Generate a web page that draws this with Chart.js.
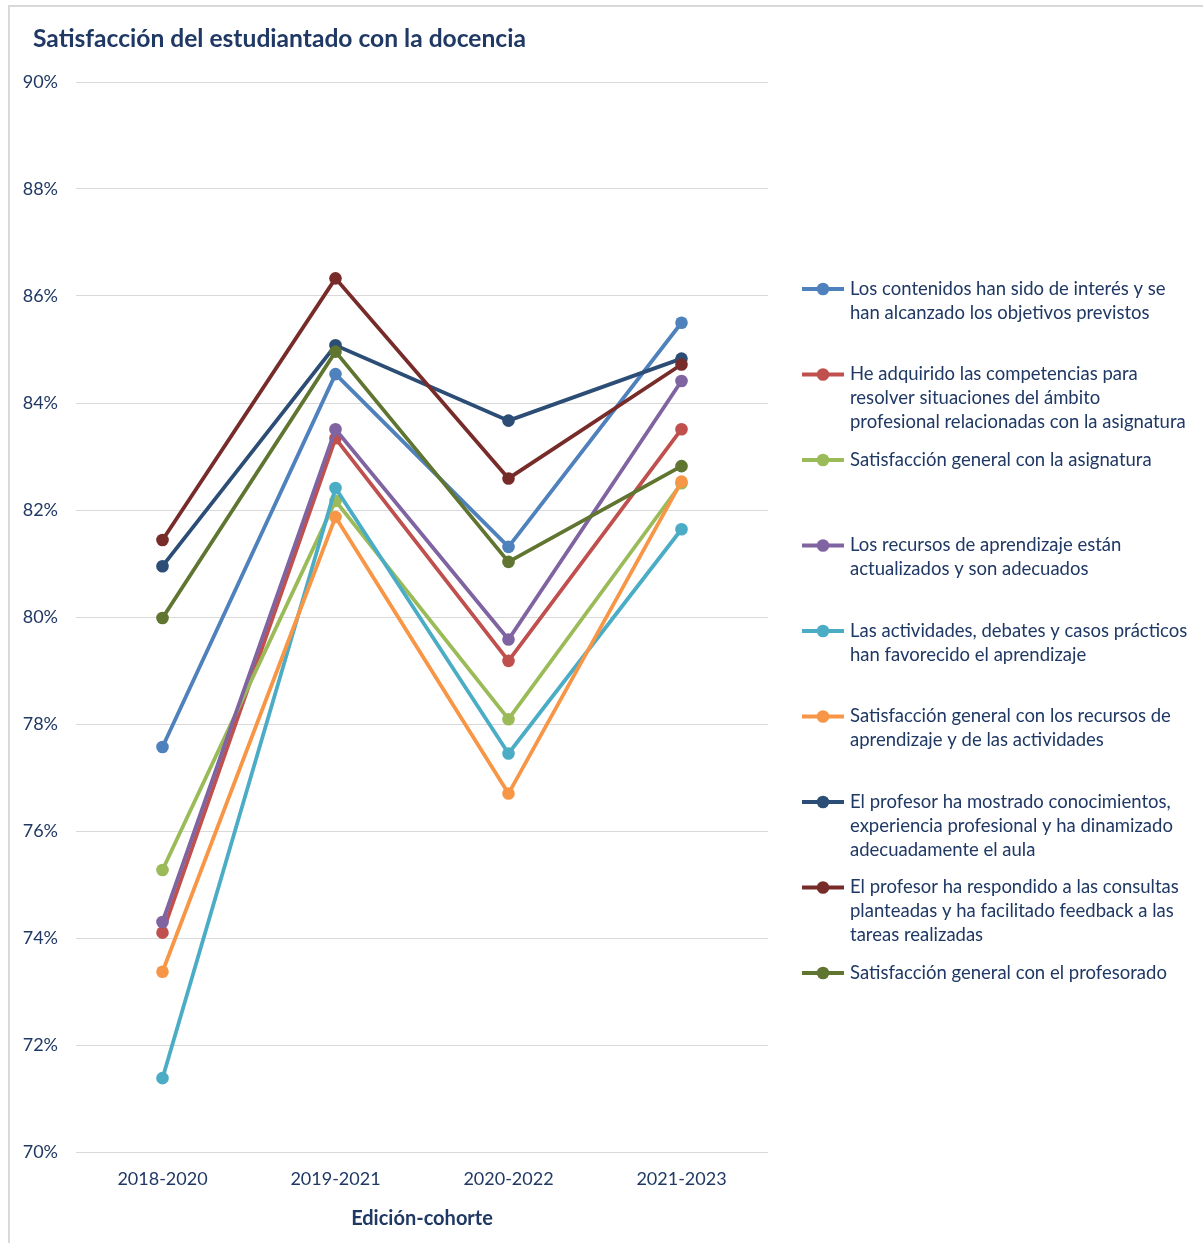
<!DOCTYPE html>
<html>
<head>
<meta charset="utf-8">
<script src="https://cdn.jsdelivr.net/npm/chart.js@4.4.0/dist/chart.umd.min.js"></script>
<style>
  html, body { margin: 0; padding: 0; background: #ffffff; }
  #wrap { position: relative; width: 1203px; height: 1243px; overflow: hidden; }
  #frame { position: absolute; left: 8px; top: 5px; width: 1195px; height: 1238px;
           border-left: 2px solid #d9d9d9; border-top: 2px solid #d9d9d9; box-sizing: border-box; }
  canvas { position: absolute; left: 0; top: 0; }
</style>
</head>
<body>
<div id="wrap">
  <div id="frame"></div>
  <canvas id="chart" width="1203" height="1243"></canvas>
</div>
<script>
// ---- Data ----
const chartTitle = 'Satisfacción del estudiantado con la docencia';
const xAxisTitle = 'Edición-cohorte';
const categories = ['2018-2020', '2019-2021', '2020-2022', '2021-2023'];

const seriesLabels = [
  ['Los contenidos han sido de interés y se', 'han alcanzado los objetivos previstos'],
  ['He adquirido las competencias para', 'resolver situaciones del ámbito', 'profesional relacionadas con la asignatura'],
  ['Satisfacción general con la asignatura'],
  ['Los recursos de aprendizaje están', 'actualizados y son adecuados'],
  ['Las actividades, debates y casos prácticos', 'han favorecido el aprendizaje'],
  ['Satisfacción general con los recursos de', 'aprendizaje y de las actividades'],
  ['El profesor ha mostrado conocimientos,', 'experiencia profesional y ha dinamizado', 'adecuadamente el aula'],
  ['El profesor ha respondido a las consultas', 'planteadas y ha facilitado feedback a las', 'tareas realizadas'],
  ['Satisfacción general con el profesorado']
];

const contenidos   = [77.57, 84.54, 81.31, 85.50];
const competencias = [74.10, 83.34, 79.18, 83.51];
const satAsignatura = [75.27, 82.17, 78.09, 82.50];
const recursos     = [74.30, 83.51, 79.58, 84.41];
const actividades  = [71.38, 82.41, 77.45, 81.64];
const satRecursos  = [73.37, 81.87, 76.70, 82.53];
const conocimientos = [80.95, 85.08, 83.67, 84.83];
const consultas    = [81.44, 86.33, 82.59, 84.72];
const satProfesorado = [79.98, 84.96, 81.03, 82.82];

const seriesValues = [contenidos, competencias, satAsignatura, recursos, actividades,
                      satRecursos, conocimientos, consultas, satProfesorado];
const seriesColors = ['#4F81BD', '#C0504D', '#9BBB59', '#8064A2', '#4BACC6',
                      '#F79646', '#2C4D75', '#772C2A', '#5F7530'];

const yMin = 70, yMax = 90, yStep = 2;

// ---- Styling ----
const TEXT = '#1F3864';
const FONT = 'Lato, "Open Sans", sans-serif';
const LINE_W = 3.8;
const DOT_R = 6.3;

const datasets = seriesValues.map((vals, i) => ({
  label: seriesLabels[i].join(' '),
  legendLines: seriesLabels[i],
  data: vals,
  borderColor: seriesColors[i],
  backgroundColor: seriesColors[i],
  pointBackgroundColor: seriesColors[i],
  pointBorderWidth: 0,
  pointRadius: DOT_R,
  borderWidth: LINE_W,
  tension: 0,
  fill: false,
  order: seriesValues.length - i
}));

const titlePlugin = {
  id: 'leftTitle',
  afterDraw(chart) {
    const ctx = chart.ctx;
    ctx.save();
    ctx.fillStyle = TEXT;
    ctx.font = 'bold 24.6px ' + FONT;
    ctx.textAlign = 'left';
    ctx.textBaseline = 'alphabetic';
    ctx.fillText(chartTitle, 33, 47);
    ctx.restore();
  }
};

const legendPlugin = {
  id: 'sideLegend',
  afterDraw(chart) {
    const ctx = chart.ctx;
    const area = chart.chartArea;
    const x0 = area.right + 34;
    const firstY = 289;
    const step = 85.5;
    const lineH = 24;
    ctx.save();
    ctx.font = '18.5px ' + FONT;
    ctx.textBaseline = 'middle';
    ctx.textAlign = 'left';
    chart.data.datasets.forEach((ds, i) => {
      const y = firstY + i * step;
      ctx.strokeStyle = ds.borderColor;
      ctx.lineWidth = LINE_W;
      ctx.beginPath();
      ctx.moveTo(x0, y);
      ctx.lineTo(x0 + 42, y);
      ctx.stroke();
      ctx.fillStyle = ds.borderColor;
      ctx.beginPath();
      ctx.arc(x0 + 21, y, DOT_R, 0, Math.PI * 2);
      ctx.fill();
      ctx.fillStyle = TEXT;
      ds.legendLines.forEach((line, k) => {
        ctx.fillText(line, x0 + 48, y + k * lineH);
      });
    });
    ctx.restore();
  }
};

function build() {
  new Chart(document.getElementById('chart'), {
    type: 'line',
    data: { labels: categories, datasets },
    options: {
      responsive: false,
      animation: false,
      layout: { padding: { left: 23, top: 82, right: 435, bottom: 0 } },
      plugins: {
        legend: { display: false },
        title: { display: false },
        tooltip: { enabled: false }
      },
      scales: {
        x: {
          type: 'category',
          offset: true,
          grid: { display: false, drawTicks: false },
          border: { display: false },
          ticks: { color: TEXT, font: { family: FONT, size: 18 }, padding: 16 },
          title: { display: true, text: xAxisTitle, color: TEXT,
                   font: { family: FONT, size: 20, weight: 'bold' },
                   padding: { top: 4, bottom: 12 } },
          afterFit(scale) { scale.height = 91; }
        },
        y: {
          min: yMin, max: yMax,
          ticks: { stepSize: yStep, color: TEXT, font: { family: FONT, size: 18 }, padding: 18,
                   callback: v => v + '%' },
          grid: { color: '#d9d9d9', lineWidth: 1, drawTicks: false },
          border: { display: false },
          afterFit(scale) { scale.width = 53; }
        }
      }
    },
    plugins: [titlePlugin, legendPlugin]
  });
}

if (document.fonts && document.fonts.load) {
  Promise.all([document.fonts.load('18px Lato'), document.fonts.load('bold 18px Lato')])
    .then(build, build);
} else { build(); }
</script>
</body>
</html>
